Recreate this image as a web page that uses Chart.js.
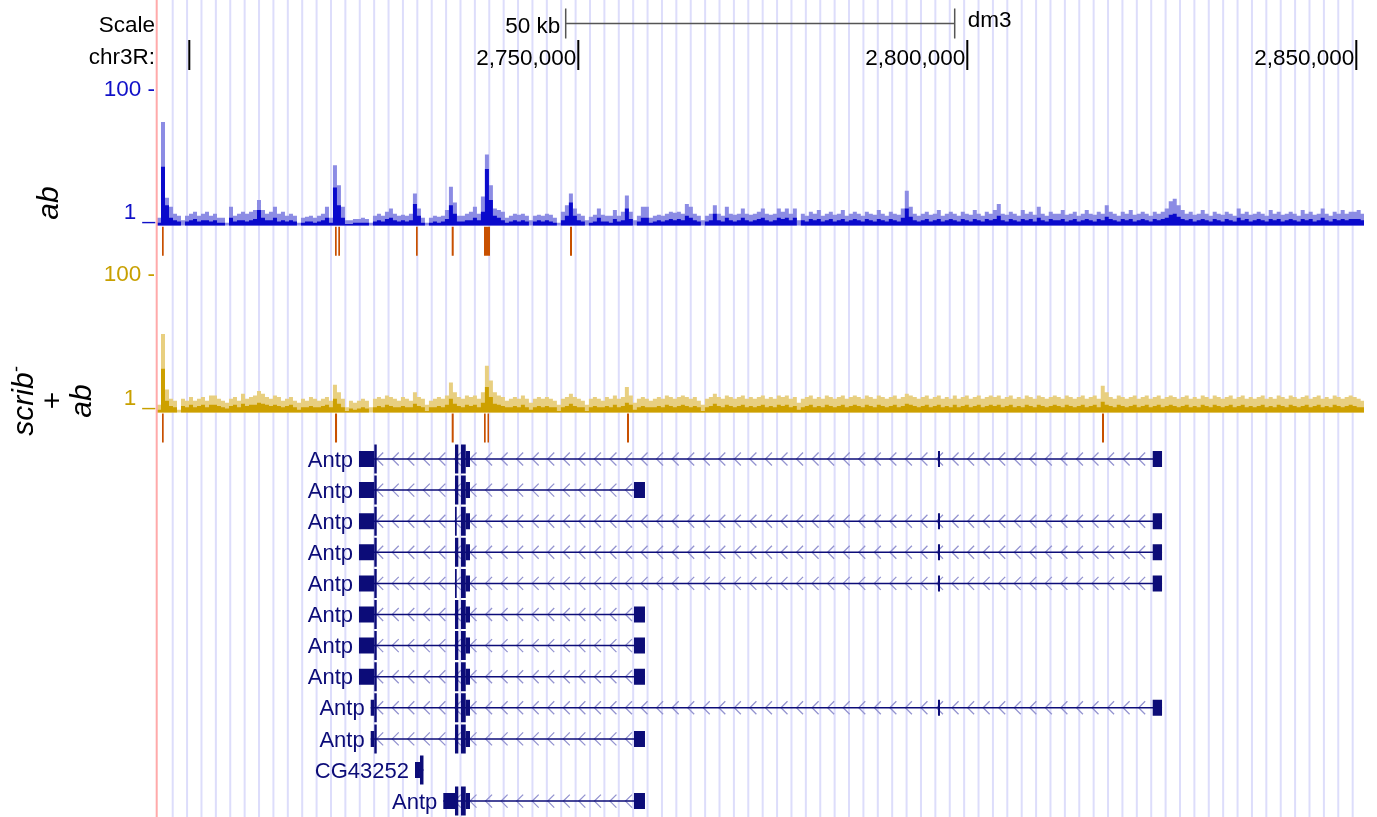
<!DOCTYPE html>
<html>
<head>
<meta charset="utf-8">
<title>chr3R Antp region</title>
<script src="https://cdn.jsdelivr.net/npm/chart.js@4.4.1/dist/chart.umd.min.js"></script>
<style>
  html, body { margin: 0; padding: 0; background: #fff; }
  #page { position: relative; width: 1377px; height: 817px; overflow: hidden;
          font-family: "Liberation Sans", Arial, Helvetica, sans-serif; }
  #browser { position: absolute; left: 0; top: 0; }
  .side { position: absolute; right: 1222px; font-size: 22.5px; line-height: 22.5px;
          white-space: nowrap; text-align: right; color: #000; }
  .track { position: absolute; width: 100px; font-size: 30px; font-style: italic;
           text-align: center; white-space: nowrap; transform: rotate(-90deg); }
  .track sup { font-size: 60%; line-height: 0; }
</style>
</head>
<body>
<div id="page">
  <canvas id="browser" width="1377" height="817"></canvas>
  <div class="side" style="top:14px">Scale</div>
  <div class="side" style="top:46px">chr3R:</div>
  <div class="side" style="top:78px;color:rgb(16,16,200)">100 -</div>
  <div class="side" style="top:201px;color:rgb(16,16,200)">1 _</div>
  <div class="side" style="top:263px;color:rgb(200,160,0)">100 -</div>
  <div class="side" style="top:387px;color:rgb(200,160,0)">1 _</div>
  <div class="track" style="left:-2px;top:183px;height:40px;line-height:40px">ab</div>
  <div class="track" style="left:2px;top:357px;height:88px;line-height:29.2px">scrib<sup>-</sup><br>+<br>ab</div>
</div>
<script>
// window shown, chr3R
const viewStart = 2695848;
const viewEnd = 2850989;

const rulerTicks = [2700000, 2750000, 2800000, 2850000];
const rulerLabels = ['', '2,750,000', '2,800,000', '2,850,000'];
const scaleBar = [2748380, 2798380];
const scaleBarLabel = '50 kb';
const assembly = 'dm3';

// signal bins (514 bp each, starting at viewStart)
const binStart = 2695848;
const binSize = 514;

const abMax = [
  1.3, 35, 2.6, 1.9, 1.5, 1.4, 1.2, 1.4, 1.5, 1.6, 1.4, 1.5, 1.6, 1.4, 1.5, 1.3, 1.3, 1.1, 1.9, 1.4, 1.5, 1.6, 1.5, 1.6, 1.7,
  2.4, 1.7, 1.5, 1.6, 1.9, 1.5, 1.6, 1.4, 1.5, 1.4, 1.1, 1.3, 1.35, 1.4, 1.3, 1.4, 1.5, 1.9, 1.3, 7.9, 4.0, 1.9, 1.2, 1.2, 1.25,
  1.25, 1.3, 1.25, 1.1, 1.4, 1.5, 1.4, 1.6, 1.8, 1.5, 1.4, 1.45, 1.4, 1.5, 3.0, 1.8, 1.3, 1.1, 1.3, 1.4, 1.35, 1.4, 1.7, 3.8, 2.2,
  1.4, 1.4, 1.5, 1.6, 1.9, 1.5, 2.7, 11.5, 4.0, 1.8, 1.7, 1.6, 1.3, 1.4, 1.5, 1.45, 1.5, 1.4, 1.2, 1.4, 1.45, 1.4, 1.5, 1.45, 1.3,
  1.1, 1.6, 2.0, 3.0, 1.8, 1.5, 1.4, 1.2, 1.35, 1.45, 1.8, 1.45, 1.4, 1.4, 1.7, 1.4, 1.6, 2.8, 1.6, 1.2, 1.4, 1.9, 1.9, 1.3, 1.4,
  1.45, 1.4, 1.5, 1.6, 1.55, 1.6, 1.5, 2.1, 1.9, 1.5, 1.4, 1.2, 1.4, 1.5, 2.0, 1.5, 1.4, 1.9, 1.5, 1.45, 1.5, 1.8, 1.5, 1.45, 1.5,
  1.6, 1.8, 1.5, 1.45, 1.5, 1.8, 1.6, 1.8, 1.5, 1.8, 1.2, 1.5, 1.4, 1.6, 1.5, 1.7, 1.4, 1.5, 1.6, 1.45, 1.5, 1.7, 1.4, 1.5, 1.6,
  1.5, 1.4, 1.6, 1.5, 1.45, 1.7, 1.5, 1.4, 1.6, 1.5, 1.45, 1.8, 3.3, 1.9, 1.5, 1.4, 1.5, 1.6, 1.45, 1.5, 1.7, 1.4, 1.5, 1.6, 1.5,
  1.4, 1.6, 1.5, 1.45, 1.7, 1.5, 1.4, 1.6, 1.5, 1.7, 2.1, 1.5, 1.45, 1.6, 1.5, 1.4, 1.7, 1.5, 1.6, 1.45, 1.9, 1.5, 1.4, 1.6, 1.5,
  1.5, 1.7, 1.45, 1.5, 1.6, 1.4, 1.5, 1.7, 1.5, 1.45, 1.6, 1.5, 2.0, 1.6, 1.5, 1.4, 1.6, 1.5, 1.7, 1.45, 1.5, 1.6, 1.5, 1.4, 1.6,
  1.5, 1.6, 1.8, 2.3, 2.5, 2.0, 1.7, 1.5, 1.6, 1.45, 1.5, 1.7, 1.5, 1.4, 1.6, 1.5, 1.45, 1.6, 1.5, 1.4, 1.8, 1.5, 1.6, 1.45, 1.5,
  1.6, 1.5, 1.4, 1.7, 1.5, 1.6, 1.45, 1.5, 1.6, 1.5, 1.4, 1.7, 1.5, 1.6, 1.45, 1.5, 1.8, 1.5, 1.4, 1.6, 1.5, 1.7, 1.5, 1.6, 1.6,
  1.7, 1.5
];
const abMean = [
  1.1, 7.5, 2.0, 1.3, 1.2, 1.15, 1.0, 1.15, 1.2, 1.25, 1.15, 1.2, 1.2, 1.15, 1.2, 1.1, 1.1, 1.0, 1.3, 1.15, 1.2, 1.2, 1.15, 1.2, 1.25,
  1.7, 1.3, 1.2, 1.2, 1.3, 1.15, 1.2, 1.15, 1.2, 1.15, 1.0, 1.1, 1.15, 1.15, 1.1, 1.15, 1.2, 1.3, 1.1, 3.7, 2.0, 1.3, 1.05, 1.05, 1.1,
  1.1, 1.1, 1.1, 1.0, 1.15, 1.2, 1.15, 1.25, 1.3, 1.2, 1.15, 1.2, 1.15, 1.2, 2.1, 1.4, 1.1, 1.0, 1.1, 1.15, 1.1, 1.15, 1.25, 2.0, 1.5,
  1.15, 1.15, 1.2, 1.2, 1.3, 1.2, 1.6, 7.0, 2.4, 1.4, 1.3, 1.2, 1.1, 1.15, 1.2, 1.15, 1.2, 1.15, 1.0, 1.15, 1.2, 1.15, 1.2, 1.15, 1.1,
  1.0, 1.2, 1.4, 2.2, 1.4, 1.2, 1.15, 1.0, 1.1, 1.15, 1.3, 1.15, 1.15, 1.1, 1.25, 1.15, 1.2, 1.8, 1.25, 1.0, 1.15, 1.3, 1.3, 1.1, 1.15,
  1.2, 1.15, 1.2, 1.25, 1.2, 1.25, 1.2, 1.4, 1.3, 1.2, 1.15, 1.0, 1.15, 1.2, 1.5, 1.2, 1.15, 1.3, 1.2, 1.15, 1.2, 1.3, 1.2, 1.15, 1.2,
  1.25, 1.3, 1.2, 1.15, 1.2, 1.3, 1.25, 1.3, 1.2, 1.3, 1.0, 1.2, 1.15, 1.25, 1.2, 1.25, 1.15, 1.2, 1.25, 1.15, 1.2, 1.25, 1.15, 1.2, 1.25,
  1.2, 1.15, 1.25, 1.2, 1.15, 1.25, 1.2, 1.15, 1.25, 1.2, 1.15, 1.3, 1.8, 1.35, 1.2, 1.15, 1.2, 1.25, 1.15, 1.2, 1.25, 1.15, 1.2, 1.25, 1.2,
  1.15, 1.25, 1.2, 1.15, 1.25, 1.2, 1.15, 1.25, 1.2, 1.25, 1.4, 1.2, 1.15, 1.25, 1.2, 1.15, 1.25, 1.2, 1.25, 1.15, 1.3, 1.2, 1.15, 1.25, 1.2,
  1.2, 1.25, 1.15, 1.2, 1.25, 1.15, 1.2, 1.25, 1.2, 1.15, 1.25, 1.2, 1.35, 1.25, 1.2, 1.15, 1.25, 1.2, 1.25, 1.15, 1.2, 1.25, 1.2, 1.15, 1.25,
  1.2, 1.25, 1.3, 1.45, 1.5, 1.35, 1.25, 1.2, 1.25, 1.15, 1.2, 1.25, 1.2, 1.15, 1.25, 1.2, 1.15, 1.25, 1.2, 1.15, 1.3, 1.2, 1.25, 1.15, 1.2,
  1.25, 1.2, 1.15, 1.25, 1.2, 1.25, 1.15, 1.2, 1.25, 1.2, 1.15, 1.25, 1.2, 1.25, 1.15, 1.2, 1.3, 1.2, 1.15, 1.25, 1.2, 1.25, 1.2, 1.25, 1.25,
  1.25, 1.2
];
const scribMax = [
  1.3, 14.8, 2.2, 1.6, 1.5, 1.1, 1.6, 1.5, 1.7, 1.5, 1.6, 1.7, 1.5, 1.8, 1.8, 1.6, 1.5, 1.4, 1.6, 1.7, 1.5, 1.9, 1.6, 1.7, 1.8,
  2.1, 1.9, 1.7, 1.6, 1.8, 1.7, 1.5, 1.6, 1.7, 1.5, 1.4, 1.6, 1.5, 1.7, 1.6, 1.5, 1.6, 1.7, 1.5, 2.6, 2.0, 1.6, 1.2, 1.5, 1.4,
  1.5, 1.6, 1.5, 1.2, 1.6, 1.7, 1.6, 1.8, 1.7, 1.6, 1.5, 1.7, 1.6, 1.5, 2.0, 1.7, 1.6, 1.3, 1.5, 1.6, 1.7, 1.6, 1.8, 2.8, 2.0,
  1.7, 1.6, 1.8, 1.7, 1.8, 1.6, 2.0, 5.0, 3.0, 2.0, 1.8, 1.7, 1.5, 1.6, 1.7, 1.6, 1.8, 1.6, 1.4, 1.6, 1.7, 1.6, 1.7, 1.6, 1.5,
  1.3, 1.6, 1.7, 1.9, 1.7, 1.6, 1.5, 1.3, 1.6, 1.7, 1.6, 1.5, 1.7, 1.6, 1.8, 1.6, 1.7, 2.4, 1.8, 1.4, 1.6, 1.7, 1.6, 1.5, 1.6,
  1.7, 1.6, 1.8, 1.7, 1.6, 1.7, 1.8, 1.7, 1.6, 1.7, 1.5, 1.3, 1.6, 1.7, 1.9, 1.7, 1.6, 1.8, 1.7, 1.6, 1.7, 1.8, 1.6, 1.7, 1.6,
  1.7, 1.8, 1.6, 1.7, 1.6, 1.8, 1.7, 1.8, 1.6, 1.7, 1.4, 1.6, 1.7, 1.8, 1.6, 1.7, 1.6, 1.8, 1.7, 1.6, 1.7, 1.8, 1.6, 1.7, 1.8,
  1.7, 1.6, 1.8, 1.7, 1.6, 1.8, 1.7, 1.6, 1.7, 1.8, 1.6, 1.7, 1.9, 1.8, 1.7, 1.6, 1.7, 1.8, 1.6, 1.7, 1.8, 1.6, 1.7, 1.6, 1.8,
  1.6, 1.7, 1.8, 1.6, 1.7, 1.8, 1.6, 1.7, 1.8, 1.7, 1.8, 1.6, 1.7, 1.8, 1.6, 1.7, 1.6, 1.8, 1.7, 1.6, 1.8, 1.7, 1.6, 1.7, 1.8,
  1.7, 1.6, 1.8, 1.7, 1.6, 1.7, 1.8, 1.6, 1.7, 1.8, 1.6, 2.5, 2.0, 1.7, 1.6, 1.8, 1.7, 1.6, 1.7, 1.8, 1.6, 1.7, 1.8, 1.6, 1.7,
  1.8, 1.6, 1.7, 1.8, 1.7, 1.6, 1.7, 1.8, 1.6, 1.7, 1.6, 1.8, 1.7, 1.6, 1.8, 1.7, 1.6, 1.7, 1.8, 1.6, 1.7, 1.8, 1.6, 1.7, 1.6,
  1.7, 1.8, 1.6, 1.7, 1.6, 1.8, 1.7, 1.6, 1.8, 1.7, 1.6, 1.7, 1.8, 1.6, 1.7, 1.8, 1.6, 1.7, 1.6, 1.8, 1.7, 1.6, 1.7, 1.8, 1.7,
  1.6, 1.5
];
const scribMean = [
  1.1, 4.5, 1.5, 1.25, 1.2, 1.0, 1.25, 1.2, 1.3, 1.2, 1.25, 1.3, 1.2, 1.3, 1.3, 1.25, 1.2, 1.15, 1.25, 1.3, 1.2, 1.35, 1.25, 1.3, 1.3,
  1.4, 1.35, 1.3, 1.25, 1.3, 1.25, 1.2, 1.25, 1.3, 1.2, 1.1, 1.2, 1.2, 1.25, 1.2, 1.2, 1.25, 1.3, 1.2, 1.6, 1.35, 1.2, 1.05, 1.15, 1.1,
  1.15, 1.2, 1.15, 1.0, 1.2, 1.25, 1.2, 1.3, 1.25, 1.2, 1.2, 1.25, 1.2, 1.2, 1.35, 1.25, 1.2, 1.05, 1.2, 1.2, 1.25, 1.2, 1.3, 1.6, 1.35,
  1.25, 1.2, 1.3, 1.25, 1.3, 1.2, 1.4, 2.4, 1.7, 1.35, 1.3, 1.25, 1.2, 1.2, 1.25, 1.2, 1.3, 1.2, 1.1, 1.2, 1.25, 1.2, 1.25, 1.2, 1.2,
  1.05, 1.2, 1.25, 1.35, 1.25, 1.2, 1.2, 1.05, 1.2, 1.25, 1.2, 1.2, 1.25, 1.2, 1.3, 1.2, 1.25, 1.4, 1.3, 1.1, 1.2, 1.25, 1.2, 1.2, 1.2,
  1.25, 1.2, 1.3, 1.25, 1.2, 1.25, 1.3, 1.25, 1.2, 1.25, 1.2, 1.05, 1.2, 1.25, 1.35, 1.25, 1.2, 1.3, 1.25, 1.2, 1.25, 1.3, 1.2, 1.25, 1.2,
  1.25, 1.3, 1.2, 1.25, 1.2, 1.3, 1.25, 1.3, 1.2, 1.25, 1.1, 1.2, 1.25, 1.3, 1.2, 1.25, 1.2, 1.3, 1.25, 1.2, 1.25, 1.3, 1.2, 1.25, 1.3,
  1.25, 1.2, 1.3, 1.25, 1.2, 1.3, 1.25, 1.2, 1.25, 1.3, 1.2, 1.25, 1.35, 1.3, 1.25, 1.2, 1.25, 1.3, 1.2, 1.25, 1.3, 1.2, 1.25, 1.2, 1.3,
  1.2, 1.25, 1.3, 1.2, 1.25, 1.3, 1.2, 1.25, 1.3, 1.25, 1.3, 1.2, 1.25, 1.3, 1.2, 1.25, 1.2, 1.3, 1.25, 1.2, 1.3, 1.25, 1.2, 1.25, 1.3,
  1.25, 1.2, 1.3, 1.25, 1.2, 1.25, 1.3, 1.2, 1.25, 1.3, 1.2, 1.45, 1.3, 1.25, 1.2, 1.3, 1.25, 1.2, 1.25, 1.3, 1.2, 1.25, 1.3, 1.2, 1.25,
  1.3, 1.2, 1.25, 1.3, 1.25, 1.2, 1.25, 1.3, 1.2, 1.25, 1.2, 1.3, 1.25, 1.2, 1.3, 1.25, 1.2, 1.25, 1.3, 1.2, 1.25, 1.3, 1.2, 1.25, 1.2,
  1.25, 1.3, 1.2, 1.25, 1.2, 1.3, 1.25, 1.2, 1.3, 1.25, 1.2, 1.25, 1.3, 1.2, 1.25, 1.3, 1.2, 1.25, 1.2, 1.3, 1.25, 1.2, 1.25, 1.3, 1.25,
  1.2, 1.2
];

// peak calls under each signal track
const abPeaks = [[2696491, 2696709], [2718727, 2718946], [2719151, 2719370], [2729138, 2729357],
                 [2733727, 2733984], [2737879, 2738650], [2748933, 2749190]];
const scribPeaks = [[2696491, 2696709], [2718727, 2718990], [2733727, 2733984], [2737879, 2738097],
                    [2738329, 2738521], [2756259, 2756516], [2817313, 2817570]];

// gene models, one entry per row
const geneNames = ['Antp', 'Antp', 'Antp', 'Antp', 'Antp', 'Antp', 'Antp', 'Antp', 'Antp', 'Antp', 'CG43252', 'Antp'];
const txSpans = [
  [2721810, 2825030], [2721810, 2758570], [2721810, 2825030], [2721810, 2825030],
  [2721810, 2825030], [2721810, 2758570], [2721810, 2758570], [2721810, 2758570],
  [2723316, 2825030], [2723316, 2758570], [2729010, 2730100], [2732650, 2758570]
];
const utrExons = [
  [[2721810, 2723780], [2735530, 2736080], [2796230, 2796490], [2823830, 2825030]],
  [[2721810, 2723780], [2735530, 2736080], [2757160, 2758570]],
  [[2721810, 2723780], [2735530, 2736080], [2796230, 2796490], [2823830, 2825030]],
  [[2721810, 2723780], [2735530, 2736080], [2796230, 2796490], [2823830, 2825030]],
  [[2721810, 2723780], [2735530, 2736080], [2796230, 2796490], [2823830, 2825030]],
  [[2721810, 2723780], [2735530, 2736080], [2757160, 2758570]],
  [[2721810, 2723780], [2735530, 2736080], [2757160, 2758570]],
  [[2721810, 2723780], [2735530, 2736080], [2757160, 2758570]],
  [[2723316, 2723780], [2735530, 2736080], [2796230, 2796490], [2823830, 2825030]],
  [[2723316, 2723780], [2735530, 2736080], [2757160, 2758570]],
  [[2729010, 2729650]],
  [[2732650, 2734150], [2735530, 2736080], [2757160, 2758570]]
];
const cdsExons = [
  [[2723780, 2724090], [2734150, 2734580], [2734920, 2735530]],
  [[2723780, 2724090], [2734150, 2734580], [2734920, 2735530]],
  [[2723780, 2724090], [2734150, 2734370], [2734920, 2735530]],
  [[2723780, 2724090], [2734150, 2734580], [2734920, 2735530]],
  [[2723780, 2724090], [2734150, 2734370], [2734920, 2735530]],
  [[2723780, 2724090], [2734150, 2734580], [2734920, 2735530]],
  [[2723780, 2724090], [2734150, 2734580], [2734920, 2735530]],
  [[2723780, 2724090], [2734150, 2734580], [2734920, 2735530]],
  [[2723780, 2724090], [2734150, 2734580], [2734920, 2735530]],
  [[2723780, 2724090], [2734150, 2734580], [2734920, 2735530]],
  [[2729650, 2730100]],
  [[2734150, 2734580], [2734920, 2735530]]
];

const abDark = 'rgb(10, 10, 204)';
const abLight = 'rgb(140, 140, 228)';
const scribDark = 'rgb(205, 160, 0)';
const scribLight = 'rgb(232, 207, 128)';
const peakColor = 'rgb(200, 80, 0)';
const geneColor = 'rgb(12, 12, 120)';
const chevronColor = 'rgb(148, 148, 208)';
const guideColor = 'rgb(221, 221, 251)';
const textFont = '22.5px "Liberation Sans", Arial, Helvetica, sans-serif';
const geneFont = '22px "Liberation Sans", Arial, Helvetica, sans-serif';

// layout of the picture in pixels
const plotH = 817;
const pxPerDecade = 67;
const abBasePx = 225.5;
const scribBasePx = 412.5;
const rowTopPx = 459;
const rowStepPx = 31.1;
const abPeakRow = -7;
const scribPeakRow = -1;

function logAxis(basePx) {
  return {
    type: 'logarithmic', axis: 'y', display: false, bounds: 'data',
    min: Math.pow(10, -(plotH - basePx) / pxPerDecade),
    max: Math.pow(10, basePx / pxPerDecade)
  };
}

function binPoints(values) {
  const pts = values.map((v, i) => ({ x: binStart + i * binSize, y: v }));
  pts.push({ x: binStart + values.length * binSize, y: values[values.length - 1] });
  return pts;
}

function blockPoints(list, row) {
  const pts = [];
  list.forEach(([s, e]) => pts.push({ x: s, y: row }, { x: e, y: row }, { x: e, y: null }));
  return pts;
}

function rowBlocks(byRow) {
  return byRow.flatMap((list, row) => blockPoints(list, row));
}

function segLine(data, color, width) {
  return {
    data, borderColor: color, backgroundColor: color, borderWidth: width,
    borderCapStyle: 'butt', pointRadius: 0, fill: false, spanGaps: false,
    tension: 0, yAxisID: 'yRows'
  };
}

function signal(values, color, axis) {
  return {
    data: binPoints(values), yAxisID: axis, stepped: 'before',
    fill: { value: 1 }, backgroundColor: color, borderColor: 'rgba(0,0,0,0)',
    borderWidth: 0, pointRadius: 0
  };
}

const browserDecor = {
  id: 'browserDecor',
  beforeDatasetsDraw(chart) {
    const { ctx, chartArea: area } = chart;
    const x = chart.scales.x, rows = chart.scales.yRows;
    ctx.save();

    ctx.fillStyle = guideColor;
    for (let gx = area.left + 1.3 + 14.39; gx < area.right; gx += 14.39) {
      ctx.fillRect(gx - 1, 0, 2, chart.height);
    }

    ctx.fillStyle = '#000';
    ctx.font = textFont;
    ctx.textBaseline = 'alphabetic';
    ctx.textAlign = 'right';
    rulerTicks.forEach((t, i) => {
      const px = x.getPixelForValue(t);
      ctx.fillRect(px - 1, 40, 2, 30);
      if (rulerLabels[i]) ctx.fillText(rulerLabels[i], px - 2, 65);
    });

    const b0 = x.getPixelForValue(scaleBar[0]);
    const b1 = x.getPixelForValue(scaleBar[1]);
    ctx.strokeStyle = 'rgb(85, 85, 85)';
    ctx.lineWidth = 1.5;
    ctx.beginPath();
    ctx.moveTo(b0, 23.5); ctx.lineTo(b1, 23.5);
    ctx.moveTo(b0, 8.5); ctx.lineTo(b0, 38.5);
    ctx.moveTo(b1, 8.5); ctx.lineTo(b1, 38.5);
    ctx.stroke();
    ctx.fillText(scaleBarLabel, b0 - 5.5, 33.3);
    ctx.textAlign = 'left';
    ctx.fillText(assembly, b1 + 13, 26.7);

    // strand chevrons along each transcript
    ctx.strokeStyle = chevronColor;
    ctx.lineWidth = 1.3;
    ctx.beginPath();
    txSpans.forEach(([s, e], row) => {
      const a = x.getPixelForValue(s);
      const b = x.getPixelForValue(e);
      const cy = rows.getPixelForValue(row);
      if (b - a < 20) return;
      for (let t = area.left + 2; t + 6.5 <= b; t += 15.55) {
        if (t < a - 0.5) continue;
        ctx.moveTo(t + 6.5, cy - 6.5);
        ctx.lineTo(t, cy);
        ctx.lineTo(t + 6.5, cy + 6.5);
      }
    });
    ctx.stroke();
    ctx.restore();
  },
  afterDatasetsDraw(chart) {
    const { ctx, chartArea: area } = chart;
    const x = chart.scales.x, rows = chart.scales.yRows;
    ctx.save();
    ctx.font = geneFont;
    ctx.fillStyle = geneColor;
    ctx.textAlign = 'right';
    ctx.textBaseline = 'alphabetic';
    geneNames.forEach((name, row) => {
      ctx.fillText(name, x.getPixelForValue(txSpans[row][0]) - 6, rows.getPixelForValue(row) + 7.6);
    });
    ctx.fillStyle = 'rgb(255, 170, 170)';
    ctx.fillRect(area.left - 1.3, 0, 2, chart.height);
    ctx.restore();
  }
};

new Chart(document.getElementById('browser'), {
  type: 'line',
  data: {
    datasets: [
      segLine(rowBlocks(cdsExons), geneColor, 29),
      segLine(rowBlocks(utrExons), geneColor, 16),
      segLine(rowBlocks(txSpans.map(span => [span])), geneColor, 1.5),
      segLine(blockPoints(abPeaks, abPeakRow), peakColor, 29),
      segLine(blockPoints(scribPeaks, scribPeakRow), peakColor, 29),
      signal(abMean, abDark, 'yAb'),
      signal(abMax, abLight, 'yAb'),
      signal(scribMean, scribDark, 'yScrib'),
      signal(scribMax, scribLight, 'yScrib')
    ]
  },
  options: {
    responsive: false,
    animation: false,
    events: [],
    layout: { padding: { left: 157, right: 13, top: 0, bottom: 0 } },
    plugins: { legend: { display: false }, tooltip: { enabled: false } },
    scales: {
      x: { type: 'linear', axis: 'x', display: false, bounds: 'data', min: viewStart, max: viewEnd },
      yAb: logAxis(abBasePx),
      yScrib: logAxis(scribBasePx),
      yRows: {
        type: 'linear', axis: 'y', display: false, bounds: 'data', reverse: true,
        min: -rowTopPx / rowStepPx, max: (plotH - rowTopPx) / rowStepPx
      }
    }
  },
  plugins: [browserDecor]
});
</script>
</body>
</html>
